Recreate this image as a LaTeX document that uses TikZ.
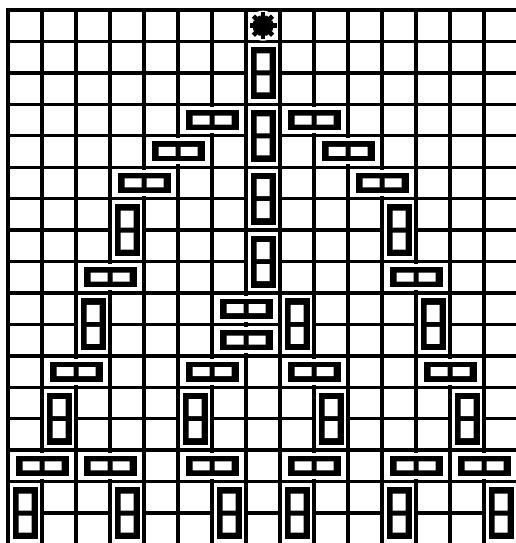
\documentclass[tikz,border=0pt]{standalone}
\usetikzlibrary{calc}

\begin{document}
\begin{tikzpicture}[
  x=0.02cm, y=-0.02cm,
  grid line/.style={line width=1.9pt, line cap=rect},
  vdomino/.pic={
    \fill[white] (-15,-29) rectangle (15,29);
    \fill[black] (-12.5,-26) rectangle (12.5,26);
    \fill[white] (-6.5,-19.5) rectangle (6.5,-2.5) (-6.5,2.5) rectangle (6.5,19.5);
  },
  hdomino/.pic={
    \fill[white] (-29.5,-13) rectangle (29.5,13);
    \fill[black] (-26.5,-10) rectangle (26.5,10);
    \fill[white] (-19.5,-4.5) rectangle (-2.5,4.5) (2.5,-4.5) rectangle (19.5,4.5);
  }
]
\useasboundingbox (0,0) rectangle (516,543);
\clip (0,0) rectangle (516,543);
\fill[white] (0,0) rectangle (516,543);

\foreach \i in {0,...,15}
  \draw[grid line] ({8+34*\i},10) -- ({8+34*\i},548);
\foreach \j in {0,...,17}
  \draw[grid line] (8,{10+31.44*\j}) -- (520,{10+31.44*\j});

\foreach \c/\r in {7/2,7/4,7/6,7/8,3/7,11/7,2/10,8/10,12/10,
                   1/13,5/13,9/13,13/13,0/16,3/16,6/16,8/16,11/16,14/16}
  \pic at ({8+34*(\c+0.5)},{10+31.44*\r}) {vdomino};
\foreach \i/\r in {6/3,9/3,5/4,10/4,4/5,11/5,3/8,12/8,7/9,7/10,
                   2/11,6/11,9/11,13/11,1/14,3/14,6/14,9/14,12/14,14/14}
  \pic at ({8+34*\i},{10+31.44*(\r+0.5)}) {hdomino};

\coordinate (star) at (263,25.7);
\fill[white] (star) circle (15);
\foreach \a in {0,45,...,315}
  \draw[line width=2.6pt] (star) -- ++(\a:13.5);
\foreach \a in {22.5,67.5,...,337.5}
  \draw[line width=1.6pt] (star) -- ++(\a:10.5);
\fill (star) circle (7);
\end{tikzpicture}
\end{document}
